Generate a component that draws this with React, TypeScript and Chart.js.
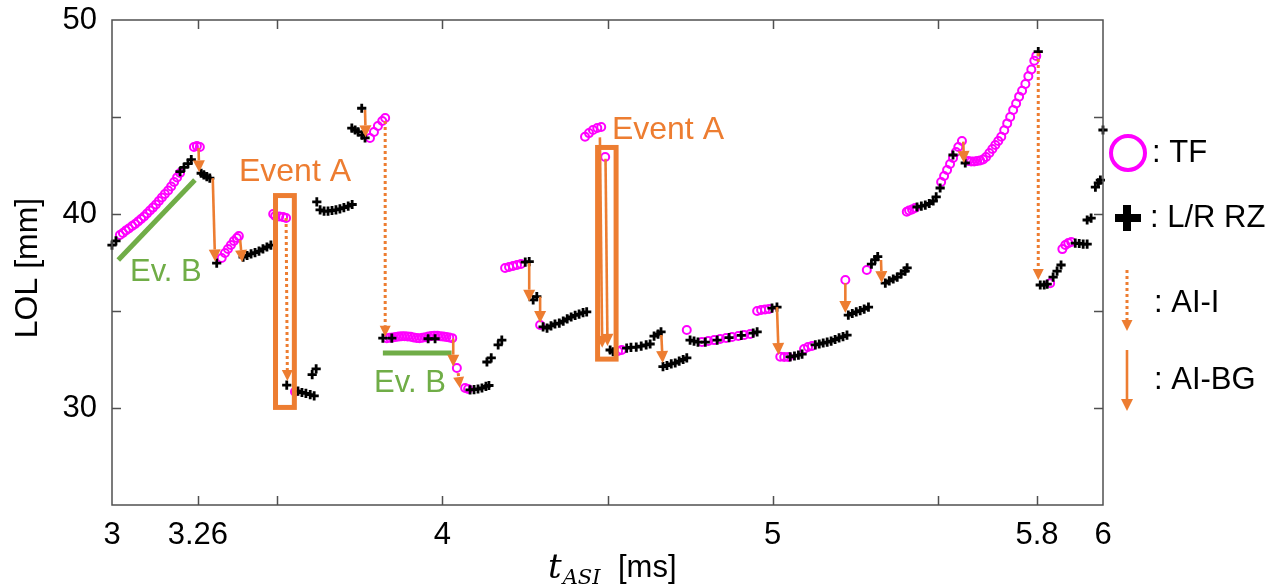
import React, { useEffect, useRef } from "react";
import { Chart, registerables } from "chart.js";

Chart.register(...registerables);

// ---------- axes ----------
const X_TICKS = [3, 3.26, 3.5, 4, 4.5, 5, 5.5, 5.8, 6];
const X_TICK_LABELS = ["3", "3.26", "", "4", "", "5", "", "5.8", "6"];
const Y_TICKS = [25, 30, 35, 40, 45, 50];
const Y_TICK_LABELS = ["", "30", "", "40", "", "50"];

// ---------- series: [t_ASI (ms), LOL (mm)] ----------
const TF_POINTS: number[][] = [
  [3.024, 38.92], [3.033, 39.02], [3.042, 39.15], [3.051, 39.25], [3.061, 39.38], [3.07, 39.48],
  [3.079, 39.61], [3.088, 39.74], [3.097, 39.87], [3.106, 40.03], [3.115, 40.18], [3.124, 40.33],
  [3.133, 40.49], [3.142, 40.67], [3.151, 40.85], [3.16, 41.03], [3.17, 41.21], [3.179, 41.42],
  [3.188, 41.65], [3.197, 41.88], [3.206, 42.11],
  [3.248, 43.45], [3.257, 43.5], [3.266, 43.45],
  [3.332, 37.73], [3.342, 37.99], [3.351, 38.2], [3.36, 38.4], [3.369, 38.61], [3.378, 38.76], [3.384, 38.86],
  [3.488, 40.0], [3.494, 39.9], [3.506, 39.87], [3.518, 39.84], [3.527, 39.79],
  [3.554, 30.84],
  [3.781, 43.92], [3.793, 44.23], [3.805, 44.54], [3.818, 44.79], [3.827, 44.95],
  [3.832, 33.6], [3.841, 33.62], [3.85, 33.64], [3.859, 33.66], [3.868, 33.68], [3.877, 33.7],
  [3.886, 33.7], [3.895, 33.69], [3.904, 33.67], [3.913, 33.64], [3.922, 33.61], [3.931, 33.6],
  [3.94, 33.62], [3.949, 33.65], [3.958, 33.68], [3.967, 33.71], [3.976, 33.72], [3.985, 33.72],
  [3.994, 33.7], [4.003, 33.68], [4.012, 33.66], [4.021, 33.63], [4.03, 33.6],
  [4.044, 32.06],
  [4.069, 31.03], [4.078, 30.98],
  [4.19, 37.22], [4.202, 37.27], [4.214, 37.32], [4.226, 37.37], [4.238, 37.42],
  [4.296, 34.28],
  [4.432, 43.98], [4.444, 44.17], [4.456, 44.33], [4.469, 44.43], [4.481, 44.48],
  [4.493, 42.94],
  [4.532, 32.94], [4.543, 32.99],
  [4.74, 34.02],
  [4.786, 33.4], [4.805, 33.45], [4.823, 33.5], [4.841, 33.56], [4.859, 33.61], [4.877, 33.66],
  [4.896, 33.71], [4.914, 33.76], [4.932, 33.81],
  [4.953, 35.0], [4.965, 35.05], [4.977, 35.08], [4.989, 35.1],
  [5.023, 32.64], [5.035, 32.63], [5.047, 32.63],
  [5.095, 33.04], [5.107, 33.14], [5.119, 33.2],
  [5.22, 36.6],
  [5.285, 37.11],
  [5.406, 40.12], [5.413, 40.18], [5.422, 40.23], [5.431, 40.31],
  [5.51, 41.65], [5.519, 41.96], [5.528, 42.27], [5.537, 42.58], [5.546, 42.89], [5.555, 43.2],
  [5.562, 43.45], [5.573, 43.76],
  [5.592, 42.73], [5.601, 42.71], [5.61, 42.71], [5.619, 42.73], [5.628, 42.76], [5.637, 42.81], [5.646, 42.94],
  [5.656, 43.14], [5.665, 43.35], [5.674, 43.56], [5.683, 43.76], [5.692, 43.98], [5.701, 44.32],
  [5.71, 44.67], [5.719, 45.0], [5.728, 45.36], [5.737, 45.7], [5.746, 46.05], [5.755, 46.35],
  [5.765, 46.7], [5.774, 47.1], [5.783, 47.45], [5.792, 47.9], [5.798, 48.15],
  [5.84, 36.43],
  [5.877, 38.19], [5.886, 38.4], [5.895, 38.5], [5.904, 38.56],
];

const RZ_POINTS: number[][] = [
  [3.0, 38.4], [3.012, 38.61],
  [3.206, 42.18], [3.218, 42.4], [3.23, 42.6], [3.24, 42.8],
  [3.27, 42.1], [3.278, 42.02], [3.287, 41.93], [3.296, 41.85],
  [3.317, 37.47],
  [3.397, 37.78], [3.409, 37.86], [3.421, 37.94], [3.433, 38.01], [3.445, 38.09], [3.457, 38.2],
  [3.469, 38.3], [3.481, 38.4],
  [3.529, 31.18], [3.563, 30.87], [3.575, 30.8], [3.587, 30.75], [3.6, 30.69], [3.612, 30.62],
  [3.606, 31.72], [3.618, 32.02],
  [3.62, 40.63], [3.63, 40.21], [3.642, 40.15], [3.654, 40.15], [3.666, 40.18], [3.678, 40.21],
  [3.69, 40.26], [3.702, 40.33], [3.715, 40.41], [3.727, 40.49],
  [3.756, 45.45],
  [3.726, 44.43], [3.736, 44.33], [3.745, 44.23], [3.757, 44.07], [3.766, 43.92],
  [3.82, 33.6], [3.847, 33.6], [3.957, 33.57], [3.978, 33.57],
  [4.084, 30.93], [4.096, 30.95], [4.108, 30.98], [4.12, 31.03], [4.132, 31.11], [4.141, 31.16],
  [4.135, 32.37], [4.148, 32.58], [4.169, 33.25], [4.18, 33.5],
  [4.251, 37.52], [4.263, 37.55],
  [4.275, 35.57], [4.286, 35.74],
  [4.305, 34.18], [4.317, 34.12], [4.329, 34.23], [4.341, 34.33], [4.354, 34.38], [4.366, 34.48],
  [4.378, 34.59], [4.39, 34.69], [4.402, 34.77], [4.414, 34.84], [4.426, 34.92], [4.437, 34.96],
  [4.508, 32.99], [4.517, 32.9],
  [4.558, 33.09], [4.571, 33.12], [4.587, 33.14], [4.602, 33.19], [4.617, 33.25], [4.629, 33.3],
  [4.641, 33.71], [4.653, 33.81], [4.662, 33.92],
  [4.668, 32.13], [4.68, 32.19], [4.693, 32.27], [4.705, 32.32], [4.717, 32.42], [4.729, 32.5], [4.74, 32.58],
  [4.75, 33.5], [4.762, 33.45], [4.774, 33.4],
  [4.796, 33.4], [4.832, 33.5], [4.868, 33.63], [4.905, 33.74], [4.941, 33.86], [4.953, 33.92],
  [4.998, 35.15], [5.013, 35.2],
  [5.053, 32.64], [5.066, 32.68], [5.078, 32.73], [5.089, 32.78],
  [5.129, 33.25], [5.141, 33.3], [5.153, 33.35], [5.165, 33.4], [5.177, 33.45], [5.189, 33.53],
  [5.201, 33.61], [5.213, 33.68], [5.225, 33.76],
  [5.229, 34.79], [5.241, 34.87], [5.253, 34.95], [5.265, 35.02], [5.277, 35.1], [5.29, 35.2],
  [5.299, 37.42], [5.31, 37.65], [5.318, 37.8],
  [5.341, 36.44], [5.353, 36.55], [5.365, 36.65], [5.377, 36.75], [5.389, 36.91], [5.401, 37.06], [5.407, 37.22],
  [5.437, 40.36], [5.45, 40.41], [5.462, 40.46], [5.474, 40.54], [5.486, 40.67], [5.495, 40.88], [5.507, 41.34],
  [5.546, 43.04],
  [5.583, 42.63],
  [5.804, 48.37],
  [5.81, 36.34], [5.822, 36.34], [5.831, 36.39],
  [5.849, 36.75], [5.861, 37.06], [5.873, 37.37],
  [5.916, 38.5], [5.928, 38.48], [5.94, 38.45], [5.952, 38.45],
  [5.952, 39.69], [5.964, 39.79],
  [5.977, 41.39], [5.986, 41.6], [5.992, 41.75],
  [6.0, 44.33],
];

// ---------- arrows: [t1, LOL1, t2, LOL2] ----------
const AI_BG_ARROWS: number[][] = [
  [3.262, 43.4, 3.264, 42.15],
  [3.305, 41.85, 3.312, 37.55],
  [3.388, 38.66, 3.394, 37.52],
  [3.766, 45.36, 3.768, 43.95],
  [4.033, 33.58, 4.033, 32.13],
  [4.263, 37.47, 4.263, 35.48],
  [4.296, 35.74, 4.296, 34.38],
  [4.477, 43.95, 4.484, 33.1],
  [4.494, 42.85, 4.5, 33.2],
  [4.663, 33.76, 4.667, 32.32],
  [5.013, 35.2, 5.018, 32.73],
  [5.22, 36.44, 5.22, 34.9],
  [5.328, 37.63, 5.33, 36.44],
  [5.577, 43.73, 5.579, 42.63],
];
const AI_I_ARROWS: number[][] = [
  [3.527, 39.79, 3.531, 31.39],
  [3.827, 44.79, 3.827, 33.67],
  [4.048, 31.8, 4.053, 31.03],
  [5.804, 48.3, 5.804, 36.6],
];

// ---------- event annotations ----------
const EVENT_A_BOXES: number[][] = [
  // [t1, t2, LOL1, LOL2]
  [3.495, 3.552, 30.03, 40.95],
  [4.47, 4.526, 32.52, 43.43],
];
const EVENT_A_LABELS: number[][] = [
  [3.554, 42.16],
  [4.683, 44.33],
];
const EVENT_B_LINES: number[][] = [
  // [t1, LOL1, t2, LOL2]
  [3.019, 37.63, 3.251, 41.75],
  [3.82, 32.83, 4.028, 32.83],
];
const EVENT_B_LABELS: number[][] = [
  [3.163, 36.98],
  [3.902, 31.24],
];

const ORANGE = "#ED7D31";
const GREEN = "#70AD47";
const MAGENTA = "#FF00FF";
const AXIS = "#505050";
const SANS = '"Liberation Sans", Arial, sans-serif';

function drawArrow(ctx: CanvasRenderingContext2D, x1: number, y1: number, x2: number, y2: number, dotted: boolean) {
  const ang = Math.atan2(y2 - y1, x2 - x1);
  const headLen = dotted ? 11 : 12;
  const headW = dotted ? 5.5 : 6;
  const bx = x2 - headLen * Math.cos(ang);
  const by = y2 - headLen * Math.sin(ang);
  ctx.save();
  ctx.strokeStyle = ORANGE;
  ctx.fillStyle = ORANGE;
  ctx.lineWidth = dotted ? 3 : 2.6;
  ctx.lineCap = "butt";
  if (dotted) ctx.setLineDash([3, 3]);
  ctx.beginPath();
  ctx.moveTo(x1, y1);
  ctx.lineTo(bx, by);
  ctx.stroke();
  ctx.setLineDash([]);
  ctx.beginPath();
  ctx.moveTo(x2, y2);
  ctx.lineTo(bx + headW * Math.sin(ang), by - headW * Math.cos(ang));
  ctx.lineTo(bx - headW * Math.sin(ang), by + headW * Math.cos(ang));
  ctx.closePath();
  ctx.fill();
  ctx.restore();
}

const overlayPlugin = {
  id: "overlay",
  afterDatasetsDraw(chart: any) {
    const ctx: CanvasRenderingContext2D = chart.ctx;
    const xs = chart.scales.x;
    const ys = chart.scales.y;
    const px = (v: number) => xs.getPixelForValue(v);
    const py = (v: number) => ys.getPixelForValue(v);

    // Event B lines
    ctx.save();
    ctx.strokeStyle = GREEN;
    ctx.lineWidth = 5;
    for (const [t1, l1, t2, l2] of EVENT_B_LINES) {
      ctx.beginPath();
      ctx.moveTo(px(t1), py(l1));
      ctx.lineTo(px(t2), py(l2));
      ctx.stroke();
    }
    ctx.restore();

    // Event A boxes
    ctx.save();
    ctx.strokeStyle = ORANGE;
    ctx.lineWidth = 5;
    for (const [t1, t2, l1, l2] of EVENT_A_BOXES) {
      const x = px(t1), y = py(l2);
      ctx.strokeRect(x, y, px(t2) - x, py(l1) - y);
    }
    ctx.restore();

    for (const [t1, l1, t2, l2] of AI_I_ARROWS) drawArrow(ctx, px(t1), py(l1), px(t2), py(l2), true);
    for (const [t1, l1, t2, l2] of AI_BG_ARROWS) drawArrow(ctx, px(t1), py(l1), px(t2), py(l2), false);

    // labels
    ctx.save();
    ctx.textAlign = "center";
    ctx.textBaseline = "middle";
    ctx.font = `32px ${SANS}`;
    ctx.fillStyle = ORANGE;
    for (const [t, l] of EVENT_A_LABELS) ctx.fillText("Event A", px(t), py(l));
    ctx.font = `31px ${SANS}`;
    ctx.fillStyle = GREEN;
    for (const [t, l] of EVENT_B_LABELS) ctx.fillText("Ev. B", px(t), py(l));
    ctx.restore();
  },
  afterDraw(chart: any) {
    const ctx: CanvasRenderingContext2D = chart.ctx;
    const { left, right, top, bottom } = chart.chartArea;
    const xs = chart.scales.x;
    const ys = chart.scales.y;
    ctx.save();
    // box
    ctx.strokeStyle = AXIS;
    ctx.lineWidth = 1.5;
    ctx.strokeRect(left, top, right - left, bottom - top);
    // inward ticks
    const tl = 9;
    ctx.beginPath();
    for (const v of X_TICKS) {
      if (v === 3 || v === 6) continue;
      const x = Math.round(xs.getPixelForValue(v)) + 0.5;
      ctx.moveTo(x, bottom);
      ctx.lineTo(x, bottom - tl);
      ctx.moveTo(x, top);
      ctx.lineTo(x, top + tl);
    }
    for (const v of Y_TICKS) {
      if (v === 25 || v === 50) continue;
      const y = Math.round(ys.getPixelForValue(v)) + 0.5;
      ctx.moveTo(left, y);
      ctx.lineTo(left + tl, y);
      ctx.moveTo(right, y);
      ctx.lineTo(right - tl, y);
    }
    ctx.stroke();

    // y title
    ctx.fillStyle = "#000";
    ctx.save();
    ctx.translate(28, 268);
    ctx.rotate(-Math.PI / 2);
    ctx.textAlign = "center";
    ctx.textBaseline = "middle";
    ctx.font = `32px ${SANS}`;
    ctx.fillText("LOL [mm]", 0, 0);
    ctx.restore();

    // x title: t_ASI [ms]
    ctx.textAlign = "left";
    ctx.textBaseline = "alphabetic";
    let x = 548;
    ctx.font = 'italic 34px "DejaVu Serif", serif';
    ctx.fillText("t", x, 578);
    x += ctx.measureText("t").width + 1;
    ctx.font = 'italic 21px "DejaVu Serif", serif';
    ctx.fillText("ASI", x, 584);
    ctx.font = `31px ${SANS}`;
    ctx.fillText("[ms]", 618, 577);

    // legend
    const lx = 1128;
    ctx.strokeStyle = MAGENTA;
    ctx.lineWidth = 4;
    ctx.beginPath();
    ctx.arc(lx, 153, 17, 0, Math.PI * 2);
    ctx.stroke();
    ctx.strokeStyle = "#000";
    ctx.lineWidth = 8;
    ctx.beginPath();
    ctx.moveTo(lx - 13, 218);
    ctx.lineTo(lx + 13, 218);
    ctx.moveTo(lx - 1, 205);
    ctx.lineTo(lx - 1, 231);
    ctx.stroke();
    drawArrow(ctx, lx - 1, 270, lx - 1, 331, true);
    drawArrow(ctx, lx - 1, 350, lx - 1, 411, false);
    ctx.fillStyle = "#000";
    ctx.font = `31px ${SANS}`;
    ctx.textBaseline = "middle";
    ctx.fillText(": TF", 1152, 153);
    ctx.fillText(": L/R RZ", 1150, 218);
    ctx.fillText(": AI-I", 1154, 303);
    ctx.fillText(": AI-BG", 1154, 380);
    ctx.restore();
  },
};

export default function App() {
  const ref = useRef<HTMLCanvasElement | null>(null);
  useEffect(() => {
    if (!ref.current) return;
    const chart = new Chart(ref.current, {
      type: "scatter",
      data: {
        datasets: [
          {
            label: "L/R RZ",
            data: RZ_POINTS.map(([x, y]) => ({ x, y })),
            pointStyle: "cross",
            pointRadius: 4.6,
            borderWidth: 2.8,
            borderColor: "#000",
            backgroundColor: "#000",
            clip: false,
          },
          {
            label: "TF",
            data: TF_POINTS.map(([x, y]) => ({ x, y })),
            pointStyle: "circle",
            pointRadius: 4,
            borderWidth: 2,
            borderColor: MAGENTA,
            backgroundColor: "rgba(255,255,255,0)",
            clip: false,
          },
        ],
      },
      options: {
        responsive: false,
        animation: false,
        devicePixelRatio: 1,
        layout: { padding: { left: 0, top: 20, right: 183, bottom: 0 } },
        plugins: { legend: { display: false }, tooltip: { enabled: false } },
        scales: {
          x: {
            type: "linear",
            min: 3,
            max: 6,
            afterBuildTicks: (s: any) => {
              s.ticks = X_TICKS.map((v) => ({ value: v }));
            },
            afterFit: (s: any) => {
              s.height = 82;
              s.paddingLeft = 0;
              s.paddingRight = 0;
            },
            ticks: {
              autoSkip: false,
              maxRotation: 0,
              padding: 12,
              color: "#000",
              font: { family: SANS, size: 31 },
              callback: (v: any) => {
                const i = X_TICKS.indexOf(Number(v));
                return i >= 0 ? X_TICK_LABELS[i] : "";
              },
            },
            grid: { display: false, drawTicks: false },
            border: { display: false },
          },
          y: {
            type: "linear",
            min: 25,
            max: 50,
            afterBuildTicks: (s: any) => {
              s.ticks = Y_TICKS.map((v) => ({ value: v }));
            },
            afterFit: (s: any) => {
              s.width = 112;
              s.paddingTop = 0;
              s.paddingBottom = 0;
            },
            ticks: {
              autoSkip: false,
              padding: 15,
              color: "#000",
              font: { family: SANS, size: 31 },
              callback: (v: any) => {
                const i = Y_TICKS.indexOf(Number(v));
                return i >= 0 ? Y_TICK_LABELS[i] : "";
              },
            },
            grid: { display: false, drawTicks: false },
            border: { display: false },
          },
        },
      },
      plugins: [overlayPlugin],
    });
    return () => chart.destroy();
  }, []);
  return (
    <div style={{ position: "absolute", left: 0, top: 0, width: 1286, height: 587, background: "#fff" }}>
      <canvas ref={ref} width={1286} height={587} style={{ display: "block", width: 1286, height: 587 }} />
    </div>
  );
}
